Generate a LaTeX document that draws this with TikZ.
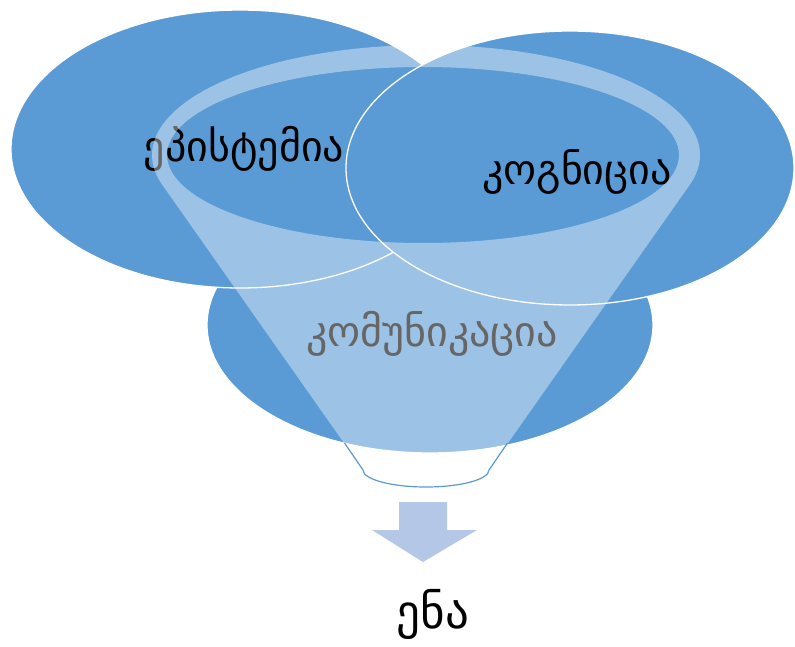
\documentclass[tikz,border=0pt]{standalone}
\usepackage{fontspec}
\newfontfamily\geo{DejaVu Sans}
\definecolor{obl}{RGB}{91,155,213}
\definecolor{arr}{RGB}{180,199,231}
\begin{document}
\begin{tikzpicture}[x=1pt,y=1pt,
  blob/.style={fill=obl,draw=white,line width=1.3pt},
  lbl/.style={anchor=base,inner sep=0pt,font=\geo\fontsize{42}{50}\selectfont}]
\useasboundingbox (0,0) rectangle (795,646);
% circles
\path[blob] (430,321) ellipse [x radius=223,y radius=128];
\path[blob] (240,497) ellipse [x radius=229,y radius=139];
\path[blob] (570,478) ellipse [x radius=224,y radius=137];
% labels
\node[lbl] (epi) at (244,484) {ეპისტემია};
\node[lbl] (kog) at (577,461) {კოგნიცია};
\node[lbl] (kom) at (432,299) {კომუნიკაცია};
% funnel
\fill[white,fill opacity=0.4,even odd rule]
  (162,461.6) arc[start angle=195.5,end angle=-15.5,x radius=274,y radius=110]
  -- (489,176) arc[start angle=0,end angle=-180,x radius=63,y radius=17]
  -- cycle
  (423,491) ellipse [x radius=256,y radius=88];
\draw[obl,line width=1.2pt] (344.5,203) -- (363,176)
  arc[start angle=-180,end angle=0,x radius=63,y radius=17] -- (507.5,203);
% arrow
\fill[arr] (399,144) -- (447,144) -- (447,116) -- (477,116) -- (423,84)
  -- (372,116) -- (399,116) -- cycle;
\node[lbl,font=\geo\fontsize{47}{56}\selectfont] (ena) at (433,18) {ენა};
\end{tikzpicture}
\end{document}
